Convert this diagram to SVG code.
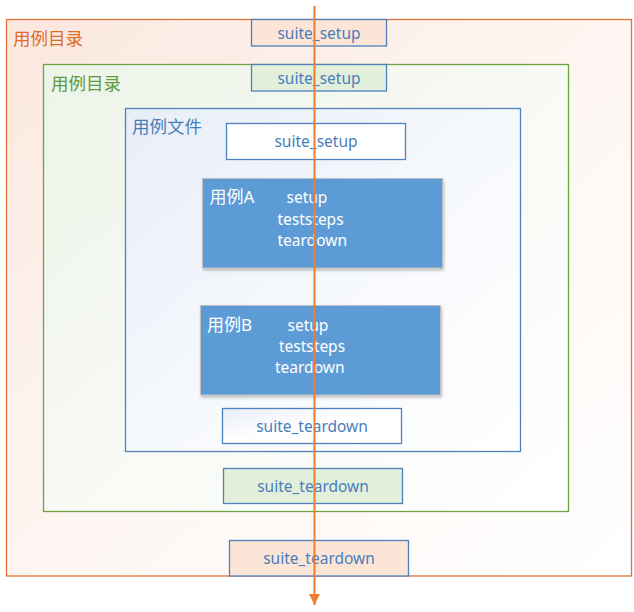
<svg xmlns="http://www.w3.org/2000/svg" width="634" height="612" viewBox="0 0 634 612">
<defs>
<linearGradient id="gO" x1="0" y1="0" x2="1" y2="1"><stop offset="0" stop-color="#fbe8df"/><stop offset="0.6" stop-color="#fef8f5"/><stop offset="1" stop-color="#ffffff"/></linearGradient>
<linearGradient id="gG" x1="0" y1="0" x2="1" y2="1"><stop offset="0" stop-color="#edf4e8"/><stop offset="0.6" stop-color="#f9fbf7"/><stop offset="1" stop-color="#ffffff"/></linearGradient>
<linearGradient id="gB" x1="0" y1="0" x2="1" y2="1"><stop offset="0" stop-color="#e8eef8"/><stop offset="0.6" stop-color="#f8fafd"/><stop offset="1" stop-color="#ffffff"/></linearGradient>
<linearGradient id="gW" x1="0" y1="0" x2="1" y2="1"><stop offset="0" stop-color="#e9eef8"/><stop offset="0.5" stop-color="#ffffff"/></linearGradient>
<filter id="sh" x="-5%" y="-5%" width="115%" height="120%"><feDropShadow dx="1" dy="2" stdDeviation="1.5" flood-color="#000" flood-opacity="0.25"/></filter>
<marker id="arr" markerWidth="11" markerHeight="11" refX="11" refY="5.5" orient="auto" markerUnits="userSpaceOnUse" viewBox="0 0 11 11"><path d="M0,0 L11,5.5 L0,11 Z" fill="#ed7d31"/></marker>
</defs>
<style>
text{font-family:"Noto Sans","Noto Sans CJK SC",sans-serif;}
.lbl{font-size:15.5px;fill:#4a7ebb;text-anchor:middle;dominant-baseline:central;}
.step{font-size:15.5px;fill:#ffffff;dominant-baseline:central;}
.case{font-size:17px;fill:#ffffff;dominant-baseline:central;}
.sbox{stroke:#4f81bd;stroke-width:1.3;}
.title{font-size:17.5px;dominant-baseline:central;}
</style>
<g id="dir-outer">
<rect x="6.5" y="19.5" width="625" height="556.5" fill="url(#gO)" stroke="#e2743a" stroke-width="1.3"/>
<text class="title" x="13" y="38" fill="#df6b27">用例目录</text>
</g>
<g id="outer-suite-setup">
<rect class="sbox" x="251.5" y="19.5" width="135" height="26.5" fill="#fbe5d6"/>
<text class="lbl" x="319" y="33">suite_setup</text>
</g>
<g id="dir-inner">
<rect x="43.5" y="64.5" width="525" height="447" fill="url(#gG)" stroke="#6aa443" stroke-width="1.3"/>
<text class="title" x="51" y="83" fill="#5e9a3a">用例目录</text>
</g>
<g id="inner-suite-setup">
<rect class="sbox" x="251.5" y="64.5" width="135" height="26.5" fill="#e2efda"/>
<text class="lbl" x="319" y="78">suite_setup</text>
</g>
<g id="file">
<rect x="125.5" y="108.5" width="395" height="343" fill="url(#gB)" stroke="#4f81bd" stroke-width="1.3"/>
<text class="title" x="132" y="126" fill="#4a7ebb">用例文件</text>
</g>
<g id="file-suite-setup">
<rect class="sbox" x="226.5" y="123.5" width="179" height="36" fill="#ffffff"/>
<text class="lbl" x="316" y="141">suite_setup</text>
</g>
<g id="case-a">
<rect x="202.5" y="178.5" width="240" height="89.5" fill="#5b9bd5" stroke="#bfbfbf" stroke-width="1" filter="url(#sh)"/>
<text class="case" x="209.5" y="196">用例A</text>
<text class="step" x="286.5" y="197">setup</text>
<text class="step" x="277.5" y="219">teststeps</text>
<text class="step" x="277.5" y="240">teardown</text>
</g>
<g id="case-b">
<rect x="200.5" y="305.5" width="240" height="89.5" fill="#5b9bd5" stroke="#bfbfbf" stroke-width="1" filter="url(#sh)"/>
<text class="case" x="207" y="324">用例B</text>
<text class="step" x="287.5" y="325">setup</text>
<text class="step" x="279" y="346">teststeps</text>
<text class="step" x="275" y="367">teardown</text>
</g>
<g id="file-suite-teardown">
<rect class="sbox" x="222.5" y="408.5" width="179" height="35" fill="url(#gW)"/>
<text class="lbl" x="312" y="426">suite_teardown</text>
</g>
<g id="inner-suite-teardown">
<rect class="sbox" x="223.5" y="468.5" width="179" height="35" fill="#e2efda"/>
<text class="lbl" x="313" y="486">suite_teardown</text>
</g>
<g id="outer-suite-teardown">
<rect class="sbox" x="229.5" y="540.5" width="179" height="35.5" fill="#fbe5d6"/>
<text class="lbl" x="319" y="558">suite_teardown</text>
</g>
<g id="connectors">
<line x1="314.5" y1="6" x2="314.5" y2="605" stroke="#ed7d31" stroke-width="2" marker-end="url(#arr)"/>
</g>
</svg>
